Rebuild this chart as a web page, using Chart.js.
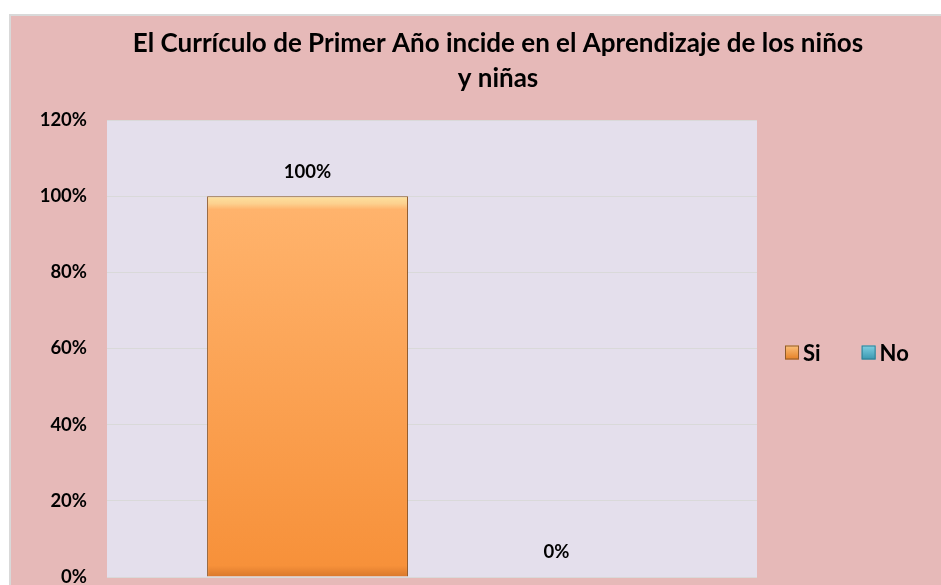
<!DOCTYPE html>
<html>
<head>
<meta charset="utf-8">
<script src="https://cdn.jsdelivr.net/npm/chart.js@4.4.1/dist/chart.umd.min.js"></script>
<style>
  html, body { margin: 0; padding: 0; background: #fff; overflow: hidden; width: 941px; height: 585px; }
  #frame {
    position: absolute; left: 9px; top: 14px;
    width: 974px; height: 600px;
    border-left: 2px solid #d9d9d9; border-top: 2px solid #d9d9d9;
    background: #e6b9b8;
  }
</style>
</head>
<body>
<div id="frame"><canvas id="chart" width="974" height="600"></canvas></div>
<script>
// datos del gráfico
const categories = [''];
const seriesNames = ['Si', 'No'];
const siValues = [100];
const noValues = [0];
const yTicks = [0, 20, 40, 60, 80, 100, 120];
const titleLines = ['El Currículo de Primer Año incide en el Aprendizaje de los niños', 'y niñas'];

const FONT = 'Lato, "Open Sans", "Noto Sans", sans-serif';

// fondo del área de trazado
const plotBg = {
    id: 'plotBg',
    beforeDraw(chart) {
        const { ctx, chartArea: a } = chart;
        ctx.save();
        ctx.fillStyle = '#e4dfec';
        ctx.fillRect(a.left, a.top, a.right - a.left, a.bottom - a.top);
        ctx.restore();
    }
};

// título centrado sobre todo el gráfico
const chartTitle = {
    id: 'chartTitle',
    afterDraw(chart) {
        const ctx = chart.ctx;
        ctx.save();
        ctx.font = 'bold 26px ' + FONT;
        ctx.fillStyle = '#000';
        ctx.textAlign = 'center';
        ctx.textBaseline = 'middle';
        titleLines.forEach((line, i) => ctx.fillText(line, chart.width / 2, 28 + i * 35));
        ctx.restore();
    }
};

// etiquetas de valor sobre cada barra
const valueLabels = {
    id: 'valueLabels',
    afterDatasetsDraw(chart) {
        const ctx = chart.ctx;
        ctx.save();
        ctx.font = 'bold 18.5px ' + FONT;
        ctx.fillStyle = '#000';
        ctx.textAlign = 'center';
        ctx.textBaseline = 'middle';
        chart.data.datasets.forEach((ds, i) => {
            chart.getDatasetMeta(i).data.forEach((el, j) => {
                ctx.fillText(ds.data[j] + '%', el.x, el.y - 24.5);
            });
        });
        ctx.restore();
    }
};

// leyenda horizontal a la derecha
const sideLegend = {
    id: 'sideLegend',
    afterDraw(chart) {
        const { ctx, chartArea: a } = chart;
        const y = a.top + (a.bottom - a.top) / 2 + 4;
        let x = a.right + 28;
        ctx.save();
        ctx.font = 'bold 22px ' + FONT;
        ctx.textBaseline = 'middle';
        chart.data.datasets.forEach(ds => {
            const g = ctx.createLinearGradient(0, y - 7, 0, y + 7);
            g.addColorStop(0, ds.legendLight);
            g.addColorStop(1, ds.legendDark);
            ctx.fillStyle = g;
            ctx.fillRect(x, y - 7, 14, 14);
            ctx.strokeStyle = ds.borderColor;
            ctx.lineWidth = 1;
            ctx.strokeRect(x + 0.5, y - 6.5, 13, 13);
            ctx.fillStyle = '#000';
            ctx.fillText(ds.label, x + 18, y + 1);
            x += 18 + ctx.measureText(ds.label).width + 41;
        });
        ctx.restore();
    }
};

function orangeFill(context) {
    const chart = context.chart;
    const a = chart.chartArea;
    if (!a || !chart.scales.y) return '#f79646';
    let top = chart.scales.y.getPixelForValue(context.raw);
    if (!Number.isFinite(top) || !Number.isFinite(a.bottom)) return '#f79646';
    if (a.bottom - top < 2) top = a.bottom - 2;
    const g = chart.ctx.createLinearGradient(0, top, 0, a.bottom);
    g.addColorStop(0, '#fde3a0');
    g.addColorStop(0.02, '#fcd08e');
    g.addColorStop(0.035, '#ffb36c');
    g.addColorStop(0.97, '#f7913a');
    g.addColorStop(1, '#d9782c');
    return g;
}

new Chart(document.getElementById('chart'), {
    type: 'bar',
    data: {
        labels: categories,
        datasets: [
            {
                label: seriesNames[0],
                data: siValues,
                backgroundColor: orangeFill,
                borderColor: '#8f5a2a',
                borderWidth: 1,
                legendLight: '#fbc07a',
                legendDark: '#e57f25'
            },
            {
                label: seriesNames[1],
                data: noValues,
                backgroundColor: '#4bacc6',
                borderColor: '#2f7f93',
                borderWidth: 1,
                legendLight: '#7fd0e2',
                legendDark: '#3a97b0'
            }
        ]
    },
    options: {
        responsive: false,
        animation: false,
        categoryPercentage: 0.766,
        barPercentage: 0.807,
        layout: { padding: { left: 0, right: 228, top: 104, bottom: 39 } },
        scales: {
            x: {
                ticks: { display: false },
                grid: { display: false, drawTicks: false },
                border: { display: false },
                afterFit(scale) { scale.height = 0; }
            },
            y: {
                min: 0,
                max: 120,
                afterBuildTicks(scale) { scale.ticks = yTicks.map(v => ({ value: v })); },
                ticks: {
                    padding: 20,
                    color: '#000',
                    font: { family: FONT, size: 18.5, weight: 'bold' },
                    callback: v => v + '%'
                },
                grid: { color: '#d9d9d9', lineWidth: 1, drawTicks: false },
                border: { display: false },
                afterFit(scale) { scale.width = 96; }
            }
        },
        plugins: {
            legend: { display: false },
            tooltip: { enabled: false },
            title: { display: false }
        }
    },
    plugins: [plotBg, valueLabels, sideLegend, chartTitle]
});
</script>
</body>
</html>
